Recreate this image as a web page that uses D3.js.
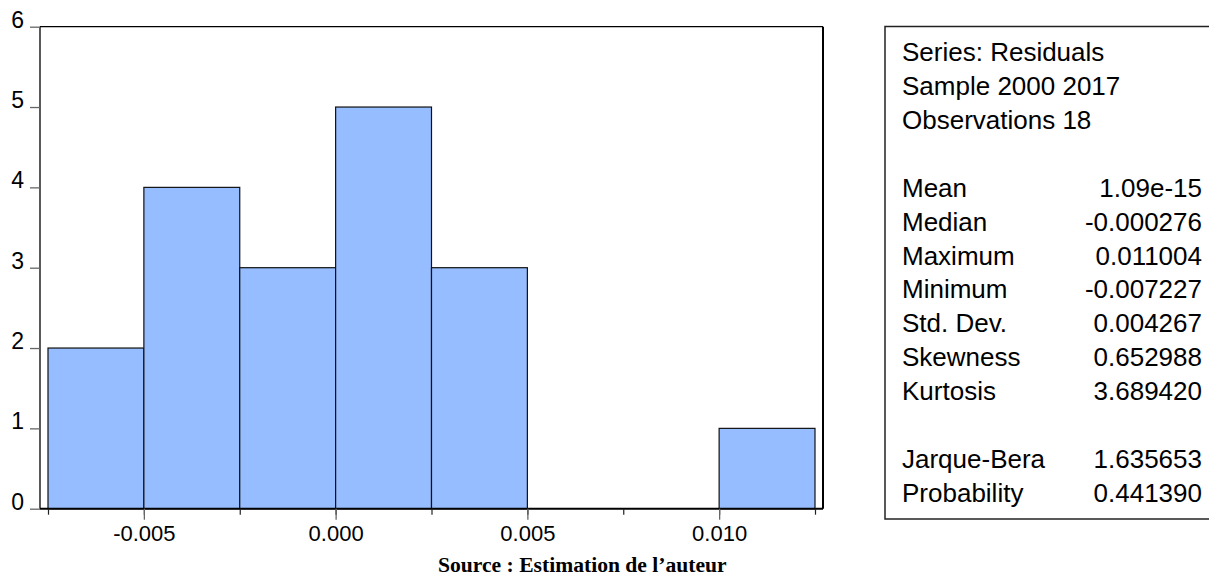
<!DOCTYPE html>
<html><head><meta charset="utf-8">
<script src="https://cdn.jsdelivr.net/npm/d3@7"></script>
<style>body{margin:0;background:#fff}svg{display:block}</style>
</head><body>
<script>
const binStarts = [-0.0075,-0.005,-0.0025,0,0.0025,0.005,0.0075,0.01];
const binWidth = 0.0025;
const counts = [2,4,3,5,3,0,0,1];
const xTickValues = [-0.005,0,0.005,0.010];
const xTickLabels = ["-0.005","0.000","0.005","0.010"];
const yTickValues = [0,1,2,3,4,5,6];
const statLabels = ["Series: Residuals","Sample 2000 2017","Observations 18","","Mean","Median","Maximum","Minimum","Std. Dev.","Skewness","Kurtosis","","Jarque-Bera","Probability"];
const statValues = ["","","","","1.09e-15","-0.000276","0.011004","-0.007227","0.004267","0.652988","3.689420","","1.635653","0.441390"];
const sourceText = "Source : Estimation de l\u2019auteur";

const W=1209,H=576;
const svg=d3.select("body").append("svg").attr("width",W).attr("height",H);
const x=d3.scaleLinear().domain([-0.0075,0.0125]).range([48,815]);
const y=d3.scaleLinear().domain([0,6]).range([508.7,26.7]);
const fx0=40,fx1=823;

// bars
svg.append("g").selectAll("rect").data(binStarts.map((s,i)=>({s,c:counts[i]})).filter(d=>d.c>0))
 .join("rect")
 .attr("x",d=>x(d.s)).attr("width",d=>x(d.s+binWidth)-x(d.s))
 .attr("y",d=>y(d.c)).attr("height",d=>y(0)-y(d.c))
 .attr("fill","#96bdff").attr("stroke","#111").attr("stroke-width",1.2);

// frame
const fr=svg.append("g").attr("fill","none").attr("stroke","#000");
fr.append("line").attr("x1",fx0).attr("x2",fx1).attr("y1",y(6)).attr("y2",y(6)).attr("stroke-width",1.3);
fr.append("line").attr("x1",fx0).attr("x2",fx0).attr("y1",y(6)).attr("y2",y(0)).attr("stroke-width",1.3);
fr.append("line").attr("x1",fx1).attr("x2",fx1).attr("y1",y(6)).attr("y2",y(0)).attr("stroke-width",2);
fr.append("line").attr("x1",fx0).attr("x2",fx1).attr("y1",y(0)).attr("y2",y(0)).attr("stroke-width",2);

// y axis
const yAxis=d3.axisLeft(y).tickValues(yTickValues).tickFormat(d3.format("d")).tickSize(10).tickPadding(6);
const ya=svg.append("g").attr("transform",`translate(${fx0},0)`).call(yAxis);
ya.select(".domain").remove();
ya.selectAll(".tick line").attr("stroke","#666").attr("stroke-width",1.3);
ya.selectAll(".tick text").attr("font-family","'Liberation Sans',Arial,sans-serif").attr("font-size",23).attr("fill","#000").attr("dy","0.02em");

// x axis minor ticks (bin edges)
const edges=binStarts.concat([binStarts[binStarts.length-1]+binWidth]);
const xMinor=d3.axisBottom(x).tickValues(edges).tickFormat("").tickSize(6);
const xm=svg.append("g").attr("transform",`translate(0,${y(0)})`).call(xMinor);
xm.select(".domain").remove();
xm.selectAll(".tick line").attr("stroke","#222").attr("stroke-width",1.2);

const xAxis=d3.axisBottom(x).tickValues(xTickValues).tickFormat((d,i)=>xTickLabels[i]).tickSize(11).tickPadding(6);
const xa=svg.append("g").attr("transform",`translate(0,${y(0)})`).call(xAxis);
xa.select(".domain").remove();
xa.selectAll(".tick line").attr("stroke","#666").attr("stroke-width",1.3);
xa.selectAll(".tick text").attr("font-family","'Liberation Sans',Arial,sans-serif").attr("font-size",22).attr("fill","#000");

// source
svg.append("text").attr("x",438).attr("y",572).text(sourceText)
 .attr("font-family","'Liberation Serif','Times New Roman',serif").attr("font-weight","bold").attr("font-size",21.6);

// stats box
svg.append("rect").attr("x",885).attr("y",26.5).attr("width",340).attr("height",492.5).attr("fill","none").attr("stroke","#222").attr("stroke-width",1.5);
const rowY=d3.scaleLinear().domain([0,statLabels.length-1]).range([61,502]);
const sb=svg.append("g").attr("font-family","'Liberation Sans',Arial,sans-serif").attr("font-size",26).attr("fill","#000");
sb.selectAll("text.l").data(statLabels).join("text").attr("class","l").attr("x",902).attr("y",(d,i)=>rowY(i)).text(d=>d);
sb.selectAll("text.v").data(statValues).join("text").attr("class","v").attr("x",1202).attr("y",(d,i)=>rowY(i)).attr("text-anchor","end").text(d=>d);
</script>
</body></html>
